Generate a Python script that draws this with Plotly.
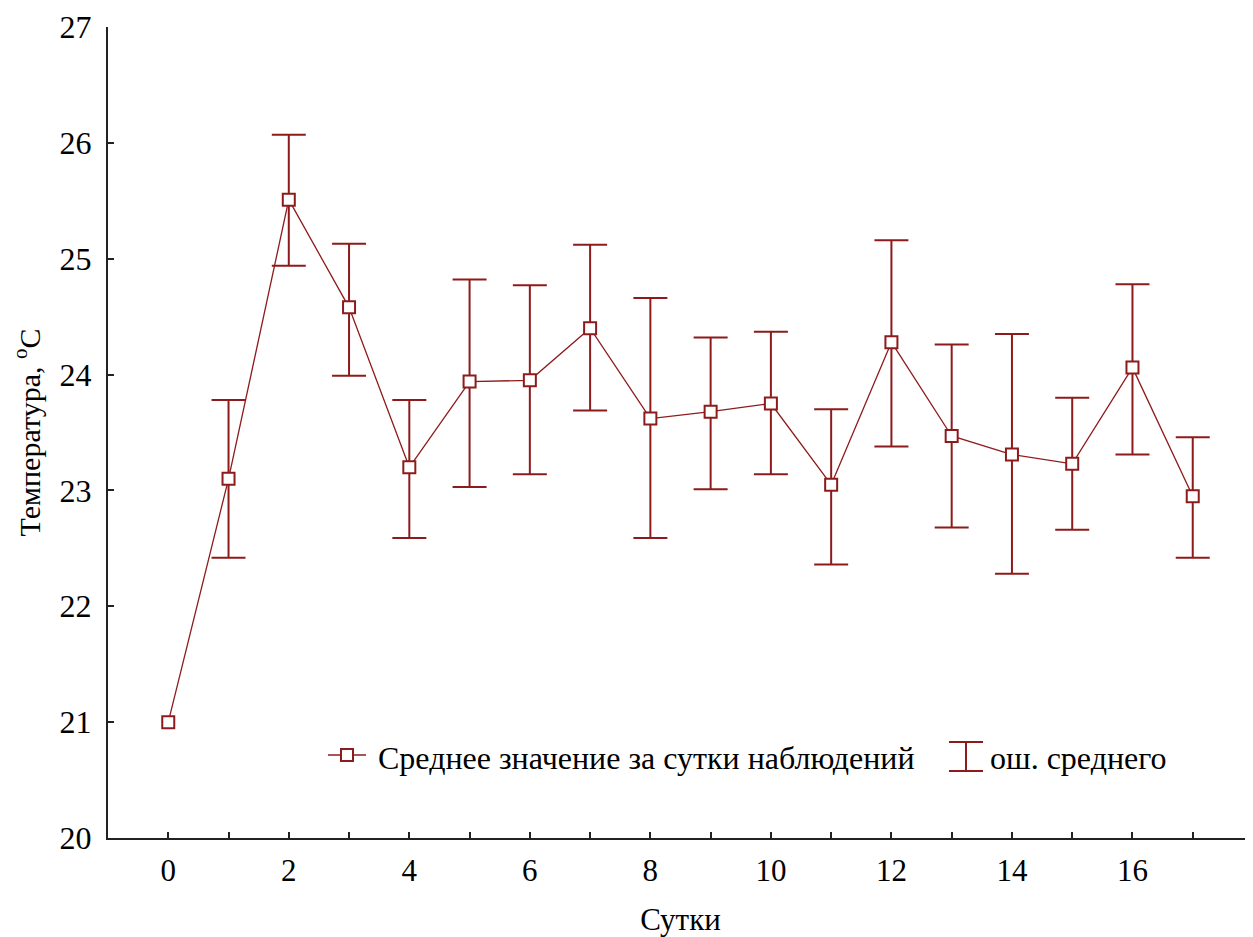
import plotly.graph_objects as go

days = list(range(18))
mean_temp = [21.0, 23.10, 25.51, 24.58, 23.20, 23.94, 23.95, 24.40, 23.62, 23.68,
             23.75, 23.05, 24.28, 23.47, 23.31, 23.23, 24.06, 22.95]
upper = [None, 23.78, 26.07, 25.13, 23.78, 24.82, 24.77, 25.12, 24.66, 24.32,
         24.37, 23.70, 25.16, 24.26, 24.35, 23.80, 24.78, 23.46]
lower = [None, 22.42, 24.94, 23.99, 22.59, 23.03, 23.14, 23.69, 22.59, 23.01,
         23.14, 22.36, 23.38, 22.68, 22.28, 22.66, 23.31, 22.42]

x_tickvals = list(range(0, 17, 2))
y_tickvals = list(range(20, 28))

COLOR = "#8E1B1B"
FONT = "Liberation Serif"

err_plus = [0 if u is None else round(u - m, 3) for u, m in zip(upper, mean_temp)]
err_minus = [0 if l is None else round(m - l, 3) for l, m in zip(lower, mean_temp)]
has_err = [u is not None for u in upper]

fig = go.Figure()

ex = [d for d, h in zip(days, has_err) if h]
ey = [m for m, h in zip(mean_temp, has_err) if h]
fig.add_trace(go.Scatter(
    x=ex, y=ey, mode="markers", marker=dict(size=1, opacity=0),
    error_y=dict(type="data", symmetric=False,
                 array=[p for p, h in zip(err_plus, has_err) if h],
                 arrayminus=[p for p, h in zip(err_minus, has_err) if h],
                 color=COLOR, thickness=2, width=17),
    showlegend=False, hoverinfo="skip"))

fig.add_trace(go.Scatter(
    x=days, y=mean_temp, mode="lines+markers",
    line=dict(color=COLOR, width=1.3),
    marker=dict(symbol="square", size=12, color="white",
                line=dict(color=COLOR, width=2)),
    showlegend=False))

# page body has an 8px margin; the figure spans 8..1253 x 8..937 in the window
OFF = 8
W, H = 1253 - OFF, 937 - OFF
L, R, T, B = 108 - OFF, 0, 27 - OFF, 99
pw, ph = W - L - R, H - T - B


def px(xp):
    return (xp - OFF - L) / pw


def py(yp):
    return (H - B - (yp - OFF)) / ph


shapes = []
shapes.append(dict(type="line", xref="paper", yref="paper",
                   x0=px(328), x1=px(366), y0=py(755), y1=py(755),
                   line=dict(color=COLOR, width=1.3)))
shapes.append(dict(type="rect", xref="paper", yref="paper",
                   x0=px(341), x1=px(353), y0=py(749), y1=py(761),
                   fillcolor="white", line=dict(color=COLOR, width=2)))
shapes.append(dict(type="line", xref="paper", yref="paper",
                   x0=px(966), x1=px(966), y0=py(742), y1=py(771),
                   line=dict(color=COLOR, width=2)))
shapes.append(dict(type="line", xref="paper", yref="paper",
                   x0=px(949), x1=px(983), y0=py(742), y1=py(742),
                   line=dict(color=COLOR, width=2)))
shapes.append(dict(type="line", xref="paper", yref="paper",
                   x0=px(949), x1=px(983), y0=py(771), y1=py(771),
                   line=dict(color=COLOR, width=2)))

annotations = [
    dict(text="Среднее значение за сутки наблюдений", xref="paper", yref="paper",
         x=px(376), y=py(758), xanchor="left", yanchor="middle", showarrow=False,
         font=dict(family=FONT, size=32, color="black")),
    dict(text="ош. среднего", xref="paper", yref="paper",
         x=px(988), y=py(758), xanchor="left", yanchor="middle", showarrow=False,
         font=dict(family=FONT, size=32, color="black")),
]

fig.update_layout(
    width=W, height=H,
    margin=dict(l=L, r=R, t=T, b=B, pad=0),
    plot_bgcolor="white", paper_bgcolor="white",
    font=dict(family=FONT, size=30, color="black"),
    shapes=shapes, annotations=annotations,
    showlegend=False,
)
fig.update_xaxes(
    range=[-1, 18], tickmode="array", tickvals=x_tickvals,
    ticks="inside", ticklen=6, tickwidth=1.5, tickcolor="#222",
    minor=dict(ticks="inside", dtick=1, tick0=0, ticklen=6, tickwidth=1.5,
               tickcolor="#222", showgrid=False),
    showline=True, linecolor="#222", linewidth=2, showgrid=False, zeroline=False,
    tickfont=dict(family=FONT, size=31), ticklabelstandoff=4,
    title=dict(text="Сутки", font=dict(family=FONT, size=31), standoff=26),
)
fig.update_yaxes(
    range=[20, 27], tickvals=y_tickvals,
    ticks="inside", ticklen=6, tickwidth=1.5, tickcolor="#222",
    showline=True, linecolor="#222", linewidth=2, showgrid=False, zeroline=False,
    tickfont=dict(family=FONT, size=32), ticklabelstandoff=8,
    title=dict(text="Температура, <sup>o</sup>C", font=dict(family=FONT, size=30), standoff=12),
)

fig.write_html("out.html")
